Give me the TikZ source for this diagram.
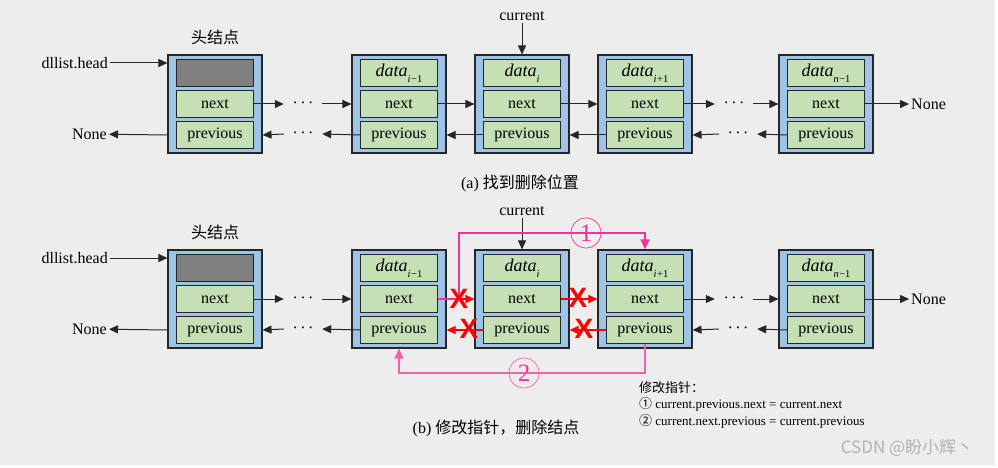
\documentclass[tikz,border=0pt]{standalone}
\usepackage{fontspec}
\setmainfont{Liberation Serif}
\newfontfamily\cjk{Noto Sans CJK SC}
\newfontfamily\xfont{Liberation Sans}
\usetikzlibrary{arrows.meta,positioning,calc}

\definecolor{bgcol}{RGB}{237,237,237}
\definecolor{boxblue}{RGB}{157,195,230}
\definecolor{cellgreen}{RGB}{197,224,180}
\definecolor{cellgray}{RGB}{127,127,127}
\definecolor{pinkA}{RGB}{245,50,150}
\definecolor{pinkB}{RGB}{245,95,170}
\definecolor{crossred}{RGB}{255,0,0}

\newcommand{\dsub}[1]{{\fontsize{18}{18}\selectfont\itshape data}\raisebox{-.35em}{\fontsize{10.5}{10.5}\selectfont #1}}
\newcommand{\tdots}{{\fontsize{8}{8}\selectfont •\hspace{5pt}•\hspace{5pt}•}}
% one list node: name, x, y, style of top cell, text of top cell
\newcommand{\dlnode}[5]{%
  \node[outerbox] (#1) at (#2,#3) {};
  \node[cell] (#1-n) at (#1.center) {next};
  \node[#4, above=3pt of #1-n] (#1-d) {#5};
  \node[cell, below=3pt of #1-n] (#1-p) {previous};
}

\begin{document}
\begin{tikzpicture}[x=1pt, y=-1pt,
  lbl/.style={font=\fontsize{16}{16}\selectfont, inner sep=2pt},
  outerbox/.style={draw=black!85, line width=1.1pt, fill=boxblue, minimum width=94pt, minimum height=98pt, inner sep=0pt},
  cell/.style={draw=black!85, line width=1pt, fill=cellgreen, minimum width=77pt, minimum height=27pt, inner sep=0pt, font=\fontsize{16}{16}\selectfont},
  graycell/.style={cell, fill=cellgray},
  dotsn/.style={minimum width=38pt, inner sep=0pt},
  ptr/.style={-{Triangle[length=9pt,width=8pt]}, line width=1pt, black!85},
  redptr/.style={-{Triangle[length=9pt,width=8pt]}, line width=1.2pt, color=crossred},
  pinkln/.style={line width=1.2pt, color=pinkA},
  pinkptr/.style={-{Triangle[length=10pt,width=9pt]}, line width=1.2pt, color=pinkA},
  pinkptrb/.style={-{Triangle[length=10pt,width=9pt]}, line width=1.2pt, color=pinkB},
  circ/.style={circle, draw, line width=0.7pt, minimum size=30pt, inner sep=0pt, font=\fontsize{25}{25}\selectfont},
  cross/.style={text=crossred, inner sep=0pt, font=\xfont\bfseries\fontsize{28}{28}\selectfont},
  lgd/.style={font=\fontsize{13}{13}\selectfont, inner sep=1pt}]

  \useasboundingbox (0,0) rectangle (998,468);
  \fill[bgcol] (0,0) rectangle (995,465);

  % both rows share the same skeleton
  \foreach \r/\y in {a/104,b/299} {
    \dlnode{\r0}{215}{\y}{graycell}{}
    \dlnode{\r1}{399}{\y}{cell}{\dsub{\textit{i}\kern.5pt−1}}
    \dlnode{\r2}{522}{\y}{cell}{\dsub{\textit{i}}}
    \dlnode{\r3}{645}{\y}{cell}{\dsub{\textit{i}\kern.5pt+1}}
    \dlnode{\r4}{826}{\y}{cell}{\dsub{\textit{n}\kern.5pt−1}}

    \node[lbl] (\r t) at (215,\y-67) {\cjk 头结点};
    \node[lbl, anchor=east] (\r hd) at (110,\y-41) {dllist.head};
    \draw[ptr] (\r hd) -- (\r hd -| \r0.west);
    \node[lbl, anchor=east] (\r nl) at (109,\y+30) {None};
    \draw[ptr] (\r0-p -| \r0.west) -- (\r nl);
    \node[lbl, anchor=west] (\r nr) at (909,\y) {None};
    \draw[ptr] (\r4-n.east) -- (\r nr.west);

    \node[dotsn] (\r dn1) at (303,\y) {\tdots};
    \node[dotsn] (\r dp1) at (303,\y+30) {\tdots};
    \draw[ptr] (\r0-n.east) -- (\r dn1.west);
    \draw[ptr] (\r dn1.east) -- (\r1.west);
    \draw[ptr] (\r1-p.west) -- (\r dp1.east);
    \draw[ptr] (\r dp1.west) -- (\r0-p -| \r0.east);

    \node[dotsn] (\r dn4) at (734,\y) {\tdots};
    \node[dotsn] (\r dp4) at (738,\y+30) {\tdots};
    \draw[ptr] (\r3-n.east) -- (\r dn4.west);
    \draw[ptr] (\r dn4.east) -- (\r4.west);
    \draw[ptr] (\r4-p.west) -- (\r dp4.east);
    \draw[ptr] (\r dp4.west) -- (\r3-p -| \r3.east);

    \node[lbl] (\r cur) at (522,\y-88) {current};
    \draw[ptr] (\r cur) -- (\r2.north);
  }

  % (a) links around current
  \draw[ptr] (a1-n.east) -- (a2.west);
  \draw[ptr] (a2-p.west) -- (a2-p -| a1.east);
  \draw[ptr] (a2-n.east) -- (a3.west);
  \draw[ptr] (a3-p.west) -- (a3-p -| a2.east);
  \node[lbl] (capa) at (520,183) {(a) {\cjk 找到删除位置}};

  % (b) broken links and new links
  \coordinate (k1) at (459,299);
  \coordinate (k2) at (578,298);
  \coordinate (k3) at (469,329);
  \coordinate (k4) at (584,329);
  \draw[pinkln] (b1-n.east) -- (k1);
  \draw[redptr] (k1) -- (b2.west);
  \draw[redptr] (b2-n.east) -- (b3.west);
  \draw[redptr] (b2-p.west) -- (b2-p -| b1.east);
  \draw[redptr] (b3-p.west) -- (b3-p -| b2.east);

  \node[circ, draw=pinkA, text=pinkA] (c1) at (586,233) {1};
  \node[circ, draw=pinkB, text=pinkA] (c2) at (524,373) {2};
  \draw[pinkptr] (k1) |- (c1.center) -| (b3.north);
  \draw[pinkptrb] (b3-p.south) |- (c2.center) -| (b1.south);

  \node[cross] (x1) at (k1) {X};
  \node[cross] (x2) at (k2) {X};
  \node[cross] (x3) at (k3) {X};
  \node[cross] (x4) at (k4) {X};

  \node[lgd, anchor=west] (lg0) at (638,388) {\cjk 修改指针：};
  \node[lgd, anchor=west] (lg1) at (638,404) {{\cjk ①} current.previous.next = current.next};
  \node[lgd, anchor=west] (lg2) at (638,421) {{\cjk ②} current.next.previous = current.previous};
  \node[lbl] (capb) at (496,428) {(b) {\cjk 修改指针，删除结点}};

  \node[text=black!30, font=\cjk\fontsize{17}{17}\selectfont] (wm) at (907,448) {CSDN @盼小辉丶};
\end{tikzpicture}
\end{document}
